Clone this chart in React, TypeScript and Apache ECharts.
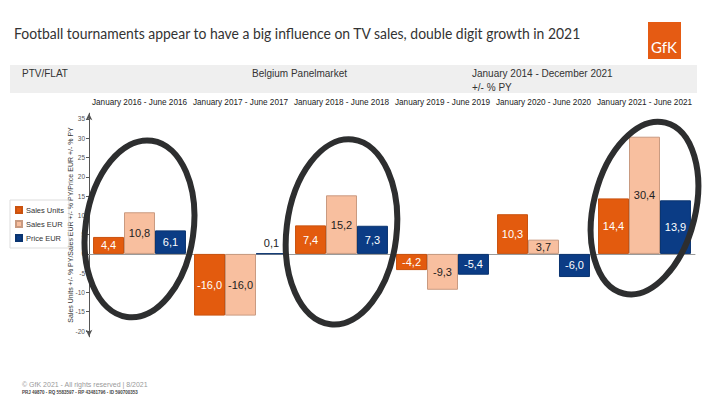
import React, { useEffect, useRef } from "react";
import * as echarts from "echarts";

const periods = [
  "January 2016 - June 2016",
  "January 2017 - June 2017",
  "January 2018 - June 2018",
  "January 2019 - June 2019",
  "January 2020 - June 2020",
  "January 2021 - June 2021",
];
const salesUnits = [4.4, -16.0, 7.4, -4.2, 10.3, 14.4];
const salesEur = [10.8, -16.0, 15.2, -9.3, 3.7, 30.4];
const priceEur = [6.1, 0.1, 7.3, -5.4, -6.0, 13.9];
const yTicks = [-20, -15, -10, -5, 0, 5, 10, 15, 20, 25, 30, 35];
const seriesNames = ["Sales Units", "Sales EUR", "Price EUR"];

const TITLE = "Football tournaments appear to have a big influence on TV sales, double digit growth in 2021";
const Y_NAME = "Sales Units +/- % PY/Sales EUR +/- % PY/Price EUR +/- % PY";

// circled groups (annotations): category index, value at centre, radii in px
const circles = [
  { cat: 0, value: 6.5, rx: 54, ry: 89, rot: -0.14 },
  { cat: 2, value: 5.7, rx: 55, ry: 93, rot: -0.12 },
  { cat: 5, value: 11.9, rx: 51, ry: 88, rot: -0.24 },
];

const ORANGE = "#E35B0E";
const PEACH = "#F8BF9F";
const NAVY = "#0B3C85";

const fmt = (v: number) => v.toFixed(1).replace(".", ",");

function makeSeries(name: string, values: number[], color: string, border: string, labelColor: string) {
  return {
    name,
    type: "bar",
    xAxisIndex: 0,
    yAxisIndex: 0,
    barGap: "0%",
    barCategoryGap: "8%",
    itemStyle: { color, borderColor: border, borderWidth: 1 },
    label: {
      show: true,
      position: "inside",
      color: labelColor,
      fontSize: 11,
      fontFamily: "Liberation Sans",
      formatter: (p: any) => fmt(p.value),
    },
    data: values.map((v) =>
      Math.abs(v) < 1
        ? { value: v, label: { position: "top", color: "#222" } }
        : { value: v }
    ),
  };
}

export default function App() {
  const ref = useRef<HTMLDivElement>(null);
  useEffect(() => {
    if (!ref.current) return;
    const chart = echarts.init(ref.current, null, { renderer: "svg" });
    const option: any = {
      animation: false,
      backgroundColor: "#ffffff",
      textStyle: { fontFamily: "Liberation Sans" },
      grid: { left: 89, right: 11, top: 113.2, bottom: 59.2, containLabel: false },
      legend: {
        orient: "vertical",
        left: 10,
        top: 200,
        itemWidth: 6,
        itemHeight: 6,
        itemGap: 6,
        padding: [6, 5],
        borderColor: "#dddddd",
        borderWidth: 1,
        icon: "rect",
        textStyle: { fontSize: 7.5, color: "#333", fontFamily: "Liberation Sans", padding: [0, 0, 0, -1] },
        data: seriesNames,
      },
      xAxis: [
        {
          type: "category",
          position: "top",
          data: periods,
          axisLine: { show: false, onZero: false },
          axisTick: { show: false },
          axisLabel: { fontSize: 8.2, color: "#222", margin: 7, interval: 0, fontFamily: "Liberation Sans" },
        },
        {
          type: "category",
          position: "bottom",
          data: periods,
          axisLine: { show: true, onZero: true, lineStyle: { color: "#9a9a9a", width: 1 } },
          axisTick: { show: false },
          axisLabel: { show: false },
        },
      ],
      yAxis: {
        type: "value",
        min: -21.5,
        max: 36.5,
        name: Y_NAME,
        nameLocation: "middle",
        nameGap: 15,
        nameMoveOverlap: false,
        nameTextStyle: { fontSize: 7, color: "#333", fontFamily: "Liberation Sans" },
        axisLine: {
          show: true,
          lineStyle: { color: "#555", width: 1 },
          symbol: ["arrow", "arrow"],
          symbolSize: [5, 7],
        },
        axisTick: { show: true, customValues: yTicks, length: 3, lineStyle: { color: "#555" } },
        axisLabel: { customValues: yTicks, fontSize: 6.5, color: "#555", margin: 4 },
        splitLine: { show: false },
      },
      series: [
        makeSeries(seriesNames[0], salesUnits, ORANGE, "#c9520f", "#ffffff"),
        makeSeries(seriesNames[1], salesEur, PEACH, "#c99a80", "#222222"),
        makeSeries(seriesNames[2], priceEur, NAVY, "#0a3470", "#ffffff"),
      ],
    };
    chart.setOption(option);

    const ellipses = circles.map((c) => {
      const [px, py] = chart.convertToPixel({ xAxisIndex: 0, yAxisIndex: 0 }, [c.cat, c.value]) as number[];
      return {
        type: "ellipse",
        x: px,
        y: py,
        rotation: c.rot,
        z: 100,
        shape: { cx: 0, cy: 0, rx: c.rx, ry: c.ry },
        style: { fill: "none", stroke: "#2d2e2f", lineWidth: 6 },
      };
    });

    chart.setOption({
      graphic: [
        {
          type: "group",
          x: 14,
          y: 26,
          scaleX: 0.93,
          children: [
            {
              type: "text",
              x: 0,
              y: 0,
              style: { text: TITLE, fontSize: 15, fontFamily: "Lato", fill: "#333333" },
            },
          ],
        },
        {
          type: "rect",
          shape: { x: 648, y: 22, width: 33, height: 37 },
          style: { fill: "#E55B13" },
        },
        {
          type: "text",
          x: 664,
          y: 47,
          style: {
            text: "GfK",
            fontSize: 15,
            fontFamily: "Lato",
            fill: "#ffffff",
            align: "center",
            verticalAlign: "middle",
          },
        },
        {
          type: "rect",
          shape: { x: 10, y: 65, width: 687, height: 28 },
          style: { fill: "#efefef" },
        },
        {
          type: "text",
          x: 22,
          y: 73,
          style: { text: "PTV/FLAT", fontSize: 10, fill: "#333", fontFamily: "Liberation Sans", verticalAlign: "middle" },
        },
        {
          type: "text",
          x: 252,
          y: 73,
          style: { text: "Belgium Panelmarket", fontSize: 10, fill: "#333", fontFamily: "Liberation Sans", verticalAlign: "middle" },
        },
        {
          type: "text",
          x: 472,
          y: 73,
          style: { text: "January 2014 - December 2021", fontSize: 10, fill: "#333", fontFamily: "Liberation Sans", verticalAlign: "middle" },
        },
        {
          type: "text",
          x: 472,
          y: 87,
          style: { text: "+/- % PY", fontSize: 10, fill: "#333", fontFamily: "Liberation Sans", verticalAlign: "middle" },
        },
        {
          type: "text",
          x: 22,
          y: 384,
          style: { text: "© GfK 2021 - All rights reserved | 8/2021", fontSize: 7, fill: "#9a9a9a", fontFamily: "Liberation Sans", verticalAlign: "middle" },
        },
        {
          type: "text",
          x: 22,
          y: 392,
          style: { text: "PRJ 49870 - RQ 5583597 - RP 43481796 - ID 590700353", fontSize: 4.5, fontWeight: "bold", fill: "#444", fontFamily: "Liberation Sans", verticalAlign: "middle" },
        },
        ...ellipses,
      ],
    });
    return () => chart.dispose();
  }, []);
  return (
    <div
      ref={ref}
      style={{ position: "fixed", left: 0, top: 0, width: 706, height: 396 }}
    />
  );
}
